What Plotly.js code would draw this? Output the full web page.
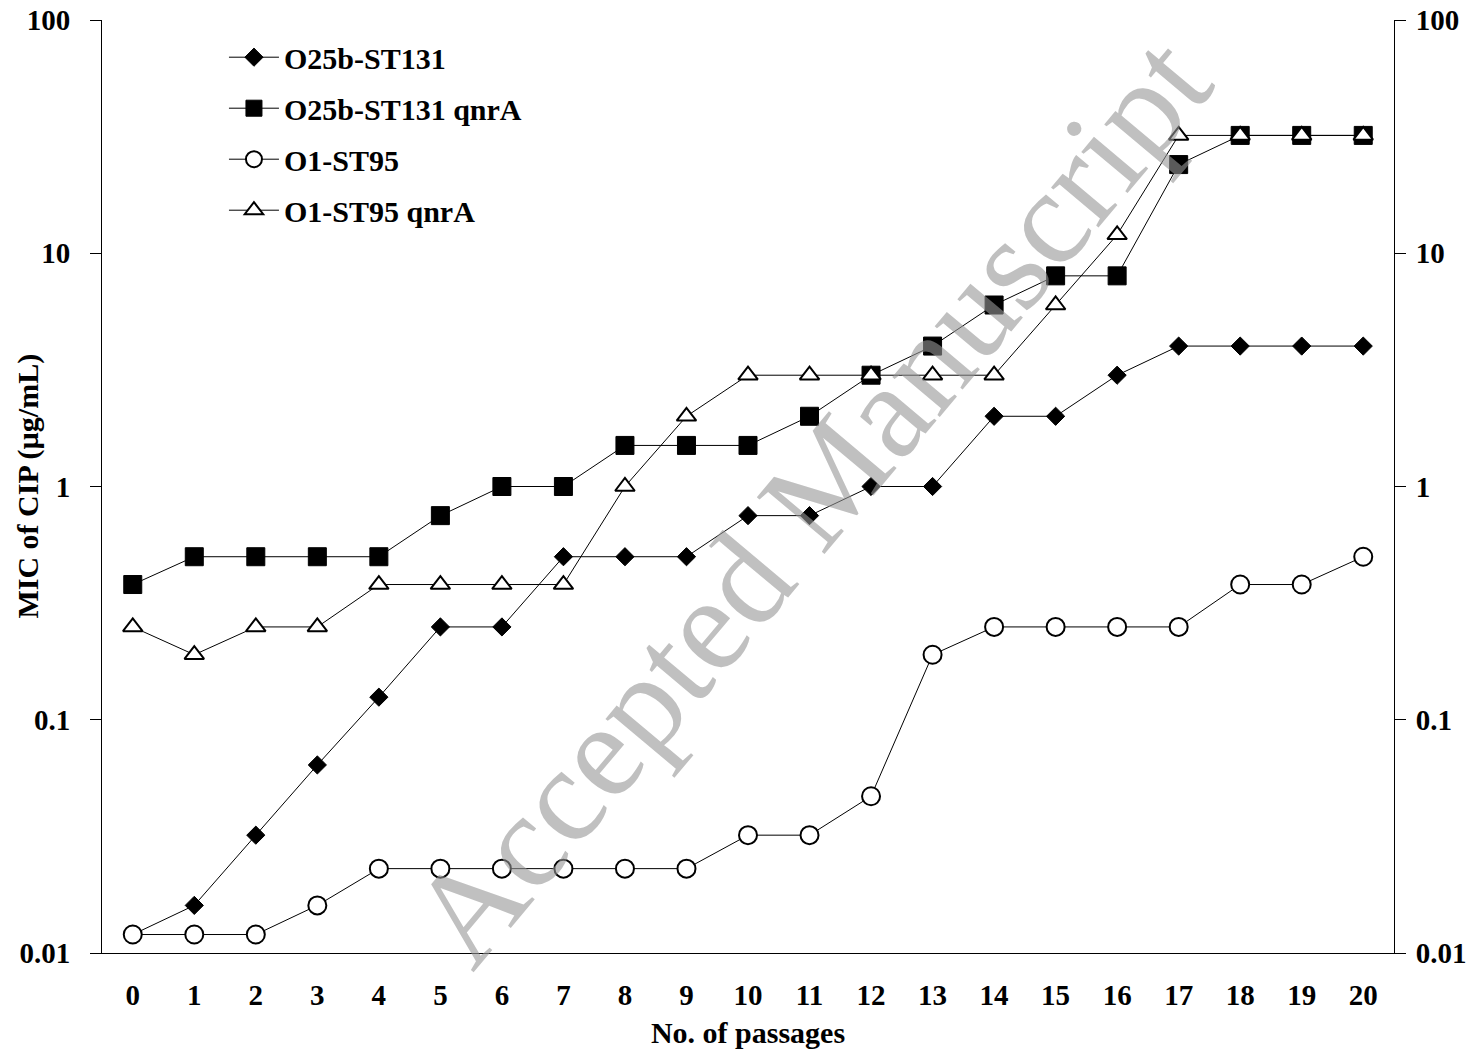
<!DOCTYPE html>
<html>
<head>
<meta charset="utf-8">
<script src="https://cdn.plot.ly/plotly-3.0.1.min.js"></script>
<style>html,body{margin:0;padding:0;background:#fff;}#chart{width:1480px;height:1054px;}</style>
</head>
<body>
<div id="chart"></div>
<script>
const passages = [0,1,2,3,4,5,6,7,8,9,10,11,12,13,14,15,16,17,18,19,20];
const seriesNames = ["O25b-ST131", "O25b-ST131 qnrA", "O1-ST95", "O1-ST95 qnrA"];
const o25b  = [0.012,0.016,0.032,0.064,0.125,0.25,0.25,0.5,0.5,0.5,0.75,0.75,1,1,2,2,3,4,4,4,4];
const o25bQ = [0.38,0.5,0.5,0.5,0.5,0.75,1,1,1.5,1.5,1.5,2,3,4,6,8,8,24,32,32,32];
const o1    = [0.012,0.012,0.012,0.016,0.023,0.023,0.023,0.023,0.023,0.023,0.032,0.032,0.047,0.19,0.25,0.25,0.25,0.25,0.38,0.38,0.5];
const o1Q   = [0.25,0.19,0.25,0.25,0.38,0.38,0.38,0.38,1,2,3,3,3,3,3,6,12,32,32,32,32];
const yTickVals = [0.01, 0.1, 1, 10, 100];
const yTickText = ["0.01", "0.1", "1", "10", "100"];
const xTitle = "No. of passages";
const yTitle = "MIC of CIP (µg/mL)";
const watermark = "Accepted Manuscript";

const FONT = "Liberation Serif, Times New Roman, serif";
const lineStyle = {color: "#000", width: 1};

const traces = [
  {x: passages, y: o25b, name: seriesNames[0], legendgroup: "a",
   mode: "lines+markers", line: lineStyle,
   marker: {symbol: "diamond", size: 14, color: "#000", line: {color: "#000", width: 1}}},
  {x: passages, y: o25bQ, name: seriesNames[1], legendgroup: "b",
   mode: "lines+markers", line: lineStyle,
   marker: {symbol: "square", size: 18, color: "#000", line: {color: "#000", width: 1}}},
  {x: passages, y: o1, name: seriesNames[2], legendgroup: "c",
   mode: "lines+markers", line: lineStyle,
   marker: {symbol: "circle", size: 18, color: "#fff", line: {color: "#000", width: 2}}},
  {x: passages, y: o1Q, name: seriesNames[3], legendgroup: "d",
   mode: "lines+markers", line: lineStyle,
   marker: {symbol: "triangle-up", size: 17, color: "#fff", line: {color: "#000", width: 2}}},
  {x: [passages[0]], y: [yTickVals[0]], yaxis: "y2", mode: "markers",
   marker: {opacity: 0}, showlegend: false, hoverinfo: "skip"}
];

const tickFont = {family: FONT, size: 29, color: "#000", weight: 700};
const titleFont = {family: FONT, size: 30, color: "#000", weight: 700};

const layout = {
  width: 1480, height: 1054,
  margin: {l: 102, r: 86, t: 20, b: 101},
  paper_bgcolor: "#fff", plot_bgcolor: "rgba(0,0,0,0)",
  showlegend: true,
  legend: {x: 0.0944, y: 0.988, xanchor: "left", yanchor: "top",
           font: {family: FONT, size: 30, color: "#000", weight: 700},
           tracegroupgap: 9, bgcolor: "rgba(0,0,0,0)", itemwidth: 50},
  xaxis: {range: [-0.5, 20.5], tickvals: passages, ticktext: passages.map(String),
          showgrid: false, zeroline: false, showline: true, linecolor: "#000", linewidth: 1,
          ticks: "", tickfont: tickFont, ticklabelstandoff: 16,
          title: {text: xTitle, font: titleFont, standoff: 12}},
  yaxis: {type: "log", range: [-2, 2], tickvals: yTickVals, ticktext: yTickText,
          showgrid: false, zeroline: false, showline: true, linecolor: "#000", linewidth: 1,
          ticks: "outside", ticklen: 11, tickcolor: "#000", tickfont: tickFont, ticklabelstandoff: 14},
  yaxis2: {type: "log", range: [-2, 2], tickvals: yTickVals, ticktext: yTickText,
          overlaying: "y", side: "right",
          showgrid: false, zeroline: false, showline: true, linecolor: "#000", linewidth: 1,
          ticks: "outside", ticklen: 11, tickcolor: "#000", tickfont: tickFont, ticklabelstandoff: 4},
  annotations: [
    {text: yTitle, xref: "paper", yref: "paper", x: -0.058, y: 0.5,
     xanchor: "center", yanchor: "middle", showarrow: false, textangle: -90,
     font: titleFont},
    {text: watermark, xref: "paper", yref: "paper", x: 0.548, y: 0.485,
     showarrow: false, textangle: -50,
     font: {family: FONT, size: 135, color: "rgba(150,150,150,0.6)"}}
  ]
};

Plotly.newPlot("chart", traces, layout, {displayModeBar: false, staticPlot: true});
</script>
</body>
</html>
